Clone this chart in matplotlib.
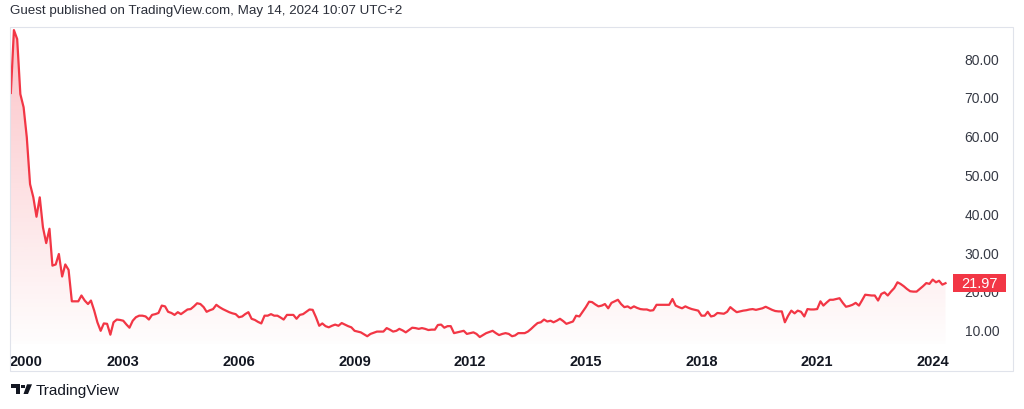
import numpy as np
import pandas as pd
import matplotlib
matplotlib.use('Agg')
import matplotlib.pyplot as plt
import matplotlib.dates as mdates
import matplotlib.transforms as mtransforms
from matplotlib.colors import to_rgb
from matplotlib.patches import Rectangle, Polygon

# --- Data: monthly P/E readings, Feb 2000 .. May 2024 ---
pe_2000_2002 = [71.0, 87.2, 84.9, 70.7, 67.3, 59.6, 47.5, 44.1, 39.1, 44.1, 36.4,
                32.3, 36.0, 26.5, 26.8, 29.5, 23.7, 26.8, 25.4, 17.3, 17.3, 17.3, 18.8,
                17.5, 16.6, 17.5, 14.9, 11.9, 9.7, 11.6, 11.5, 8.7, 11.9, 12.6, 12.5]
pe_2003_2007 = [12.3, 11.3, 10.5, 12.3, 13.2, 13.6, 13.6, 13.4, 12.6, 13.8, 14.0, 14.3,
                16.2, 16.0, 14.6, 14.3, 13.8, 14.5, 14.0, 14.6, 15.2, 15.3, 16.0, 16.8,
                16.6, 15.8, 14.6, 15.0, 15.3, 16.4, 15.8, 15.3, 14.9, 14.5, 14.2, 14.0,
                13.2, 13.4, 14.0, 14.5, 12.8, 12.5, 12.0, 11.6, 13.6, 13.6, 14.0, 13.6,
                13.6, 13.1, 12.6, 13.8, 13.8, 13.8, 12.8, 13.8, 14.0, 14.6, 15.2, 15.1]
pe_2008_2013 = [13.2, 11.0, 11.6, 10.9, 10.6, 11.0, 11.3, 11.0, 11.7, 11.3, 10.9, 10.6,
                9.7, 9.5, 9.3, 8.8, 8.3, 8.9, 9.2, 9.5, 9.5, 9.5, 10.4, 10.0,
                9.5, 9.7, 10.2, 9.8, 9.3, 9.9, 10.5, 10.4, 10.2, 10.4, 10.2, 9.9,
                10.0, 10.0, 11.2, 11.3, 10.5, 10.9, 10.9, 9.1, 9.3, 9.5, 9.7, 8.9,
                9.1, 9.3, 8.9, 8.1, 8.6, 9.1, 9.4, 9.7, 9.1, 8.6, 8.9, 9.1,
                8.9, 8.3, 8.5, 9.1, 9.1, 9.1, 9.5, 10.2, 11.0, 11.7, 11.9, 12.6]
pe_2014_2019 = [12.1, 12.3, 11.9, 12.3, 12.8, 12.2, 11.5, 11.8, 12.1, 13.6, 13.4, 14.6,
                15.8, 17.2, 17.1, 16.5, 16.0, 16.2, 16.6, 15.5, 16.9, 17.3, 17.7, 16.6,
                15.8, 16.0, 15.5, 16.0, 15.6, 15.3, 15.2, 15.2, 14.9, 15.0, 16.4, 16.4,
                16.4, 16.4, 16.4, 17.9, 16.2, 15.8, 15.5, 16.0, 15.6, 15.3, 15.1, 14.9,
                13.6, 13.6, 14.6, 13.4, 13.6, 14.3, 14.2, 14.1, 14.6, 15.8, 15.1, 14.5,
                14.7, 14.9, 15.0, 15.2, 15.3, 15.1, 15.3, 15.5, 15.9, 15.5, 15.1, 14.8]
pe_2020_2024 = [14.7, 14.7, 11.9, 13.6, 14.9, 14.2, 14.9, 14.6, 13.4, 15.3, 15.2, 15.2,
                15.3, 17.3, 16.2, 17.0, 17.7, 17.7, 17.9, 18.1, 16.9, 15.9, 16.1, 16.4,
                16.9, 16.2, 17.5, 19.0, 18.9, 18.8, 18.8, 17.5, 19.2, 19.6, 18.8, 19.8,
                20.7, 22.2, 21.8, 21.2, 20.5, 19.9, 19.8, 19.8, 20.5, 21.2, 22.0, 21.8,
                22.9, 22.2, 22.6, 21.6, 21.97]

values = np.array(pe_2000_2002 + pe_2003_2007 + pe_2008_2013 + pe_2014_2019 + pe_2020_2024)
dates = pd.date_range('2000-02-01', periods=len(values), freq='MS')

year_ticks = [2000, 2003, 2006, 2009, 2012, 2015, 2018, 2021, 2024]
price_ticks = [10, 20, 30, 40, 50, 60, 70, 80]
last_value = values[-1]

RED = '#f23645'
TEXT = '#131722'

# --- Figure layout (pixel based) ---
W, H = 1024, 410
fig = plt.figure(figsize=(W / 100, H / 100), dpi=100)
plt.rcParams['font.family'] = ['Liberation Sans', 'DejaVu Sans']


def fx(px):
    return px / W


def fy(py):
    return 1 - py / H


# panel frame
fig.patches.append(Rectangle((fx(10), fy(372)), fx(1013) - fx(10), fy(28) - fy(372),
                             transform=fig.transFigure, fill=False,
                             edgecolor='#e0e3eb', linewidth=0.8))

ax = fig.add_axes([fx(10), fy(345), fx(955) - fx(10), fy(28) - fy(345)])
for s in ax.spines.values():
    s.set_visible(False)

ymin, ymax = 6.3, 88.0
xmin = pd.Timestamp('2000-01-24')
xmax = pd.Timestamp('2024-07-30')

# gradient fill under the line
fill = ax.fill_between(dates, values, ymin, facecolor='none', edgecolor='none')
grad = np.zeros((256, 1, 4))
grad[..., :3] = to_rgb(RED)
grad[:, 0, 3] = np.linspace(0.3, 0.01, 256)
img = ax.imshow(grad, extent=[mdates.date2num(xmin), mdates.date2num(xmax), ymin, ymax],
                aspect='auto', origin='upper', zorder=1)
img.set_clip_path(fill.get_paths()[0], transform=ax.transData)

ax.plot(dates, values, color=RED, linewidth=1.6, zorder=3, solid_joinstyle='round')

ax.set_xlim(xmin, xmax)
ax.set_ylim(ymin, ymax)

# x axis: year labels
xt = [xmin] + [pd.Timestamp(f'{y}-01-01') for y in year_ticks[1:]]
ax.set_xticks(xt)
ax.set_xticklabels([str(y) for y in year_ticks], fontsize=10.5, fontweight='bold', color=TEXT)
ax.xaxis.get_ticklabels()[0].set_horizontalalignment('left')
ax.tick_params(axis='x', length=0, pad=7)

# y axis on the right
ax.yaxis.tick_right()
ax.set_yticks(price_ticks)
ax.set_yticklabels([f'{v:.2f}' for v in price_ticks], fontsize=10, color='#363a45')
ax.tick_params(axis='y', length=0, pad=7)

# last price tag (drawn over the scale, as in the original)
tag_tr = mtransforms.blended_transform_factory(fig.transFigure, ax.transData)
tag_h = 18 / ((fy(28) - fy(345)) * H) * (ymax - ymin)
tag = Rectangle((fx(953), last_value - tag_h / 2), fx(1006) - fx(953), tag_h,
                transform=tag_tr, facecolor=RED, edgecolor='none', zorder=6, clip_on=False)
ax.add_artist(tag)
ax.text(fx(979.5), last_value, f'{last_value:.2f}', transform=tag_tr,
        ha='center', va='center', fontsize=10.5, color='white', zorder=7, clip_on=False)

# header
fig.text(fx(10), fy(11), 'Guest published on TradingView.com, May 14, 2024 10:07 UTC+2',
         fontsize=9.6, color='#2a2e39', ha='left', va='center')

# footer logo + wordmark
def P(px, py):
    return (fx(px), fy(py))


logo_kw = dict(transform=fig.transFigure, facecolor=TEXT, edgecolor='none')
fig.patches.append(Polygon([P(11, 385.3), P(20, 385.3), P(20, 395), P(15.5, 395),
                            P(15.5, 388.8), P(11, 388.8)], closed=True, **logo_kw))
fig.patches.append(Polygon([P(21, 385.5), P(24.5, 385.5), P(24.5, 389), P(21, 389)],
                           closed=True, **logo_kw))
fig.patches.append(Polygon([P(27, 385.3), P(32, 385.3), P(28, 395), P(23.5, 395)],
                           closed=True, **logo_kw))
fig.text(fx(36), fy(391.5), 'TradingView', fontsize=11, color=TEXT, ha='left', va='center')

fig.savefig('out.png', dpi=100, facecolor='white')
